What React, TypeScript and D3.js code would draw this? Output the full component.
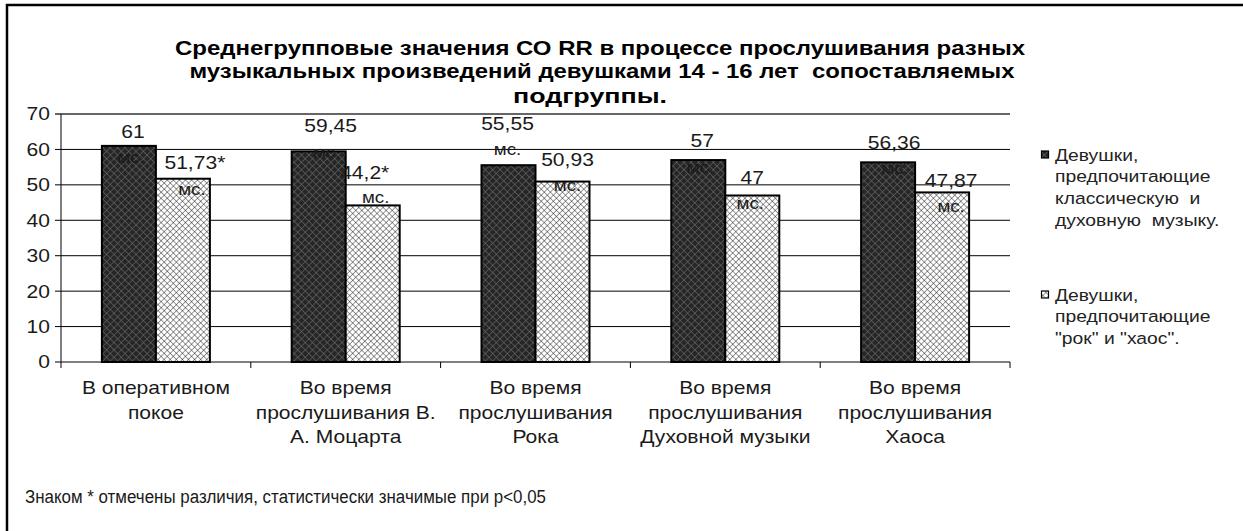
import React from "react";
import * as d3 from "d3";

const categories: string[][] = [
  ["В оперативном", "покое"],
  ["Во время", "прослушивания В.", "А. Моцарта"],
  ["Во время", "прослушивания", "Рока"],
  ["Во время", "прослушивания", "Духовной музыки"],
  ["Во время", "прослушивания", "Хаоса"],
];
const seriesNames: string[][] = [
  ["Девушки,", "предпочитающие", "классическую  и", "духовную  музыку."],
  ["Девушки,", "предпочитающие", "\"рок\" и \"хаос\"."],
];
const classicValues: number[] = [61, 59.45, 55.55, 57, 56.36];
const rockValues: number[] = [51.73, 44.2, 50.93, 47, 47.87];
const rockSignificant: boolean[] = [true, true, false, false, false];
const yTicks: number[] = [0, 10, 20, 30, 40, 50, 60, 70];
const titleLines: string[] = [
  "Среднегрупповые значения СО RR в процессе прослушивания разных",
  "музыкальных произведений девушками 14 - 16 лет  сопоставляемых",
  "подгруппы.",
];
const footnote = "Знаком * отмечены различия, статистически значимые при p<0,05";
const unit = "мс.";

// layout: label nudges (dx, dy) relative to bar centre / bar top, [value line, unit line]
const labelNudge: number[][][][] = [
  [
    [[4, -14], [2, 12]],
    [[12, -26], [8, 1]],
    [[-1, -42], [-1, -16]],
    [[4, -19], [2, 7]],
    [[6, -20], [7, 6]],
  ],
  [
    [[12, -16], [9, 11]],
    [[-8, -33], [3, -8]],
    [[5, -22], [5, 4]],
    [[0, -18], [-2, 8]],
    [[9, -12], [9, 14]],
  ],
];

const FONT = "'Liberation Sans', Arial, sans-serif";
const SX = 1.17;
const W = 1243;
const H = 531;
const plot = { left: 61, right: 1010, top: 114, bottom: 362 };

function T(props: {
  x: number; y: number; size: number; text: string; anchor?: string;
  weight?: string; fill?: string; sx?: number; len?: number;
}) {
  const { x, y, size, text, anchor = "middle", weight = "normal", fill = "#1a1a1a", sx = SX, len } = props;
  return (
    <text
      transform={`translate(${x},${y}) scale(${len ? 1 : sx},1)`}
      fontSize={size}
      fontFamily={FONT}
      fontWeight={weight}
      textAnchor={anchor as any}
      dominantBaseline="central"
      fill={fill}
      textLength={len}
      lengthAdjust={len ? "spacingAndGlyphs" : undefined}
      style={{ whiteSpace: "pre" }}
    >
      {text}
    </text>
  );
}

export default function App() {
  const x0 = d3.scaleBand<number>().domain(d3.range(categories.length)).range([plot.left, plot.right]);
  const groupW = 108;
  const x1 = d3.scaleBand<number>().domain([0, 1]).range([-groupW / 2, groupW / 2]);
  const y = d3.scaleLinear().domain([0, 70]).range([plot.bottom, plot.top]);
  const series = [classicValues, rockValues];
  const fmt = (v: number) => String(v).replace(".", ",");
  const fills = ["url(#darkHatch)", "url(#lightHatch)"];
  const boundaries = d3.range(categories.length + 1).map((i) => plot.left + i * x0.bandwidth());

  return (
    <svg width={W} height={H} style={{ position: "absolute", left: 0, top: 0, background: "#fff" }}>
      <defs>
        <pattern id="darkHatch" width={5.2} height={5.2} patternUnits="userSpaceOnUse" patternTransform="rotate(45)">
          <rect width={5.2} height={5.2} fill="#262626" />
          <path d="M0,0H5.2M0,0V5.2" stroke="#666" strokeWidth={1.2} />
        </pattern>
        <pattern id="lightHatch" width={4.3} height={4.3} patternUnits="userSpaceOnUse" patternTransform="rotate(45)">
          <rect width={4.3} height={4.3} fill="#fff" />
          <path d="M0,0H4.3M0,0V4.3" stroke="#111" strokeWidth={0.85} />
        </pattern>
      </defs>
      <rect x={0} y={0} width={W} height={H} fill="#fff" />
      <rect x={7} y={5} width={W + 20} height={H + 20} fill="none" stroke="#000" strokeWidth={2.5} />

      {titleLines.map((t, i) => (
        <T key={i} x={[600, 602, 590][i]} y={[47, 70, 95][i]} size={21} weight="bold" fill="#000" text={t} len={[850, 825, 154][i]} />
      ))}

      {yTicks.map((t) => (
        <g key={t}>
          <line x1={plot.left - 6} x2={plot.right} y1={y(t)} y2={y(t)} stroke={t === 70 ? "#666" : "#000"} strokeWidth={t === 70 ? 2 : 1} />
          <T x={50} y={y(t)} size={18} anchor="end" text={String(t)} />
        </g>
      ))}
      <line x1={plot.left} x2={plot.left} y1={plot.top} y2={plot.bottom} stroke="#000" strokeWidth={1} />
      {boundaries.map((b, i) => (
        <line key={i} x1={b} x2={b} y1={plot.bottom} y2={plot.bottom + 6} stroke="#000" strokeWidth={1} />
      ))}

      {series.map((vals, s) =>
        vals.map((v, i) => {
          const cx = x0(i)! + x0.bandwidth() / 2;
          const bx = cx + x1(s)!;
          const bw = x1.bandwidth();
          return (
            <rect key={`${s}-${i}`} x={bx} y={y(v)} width={bw} height={y(0) - y(v)} fill={fills[s]} stroke="#000" strokeWidth={2} />
          );
        })
      )}
      {series.map((vals, s) =>
        vals.map((v, i) => {
          const cx = x0(i)! + x0.bandwidth() / 2;
          const bc = cx + x1(s)! + x1.bandwidth() / 2;
          const top = y(v);
          const n = labelNudge[s][i];
          const txt = fmt(v) + (s === 1 && rockSignificant[i] ? "*" : "");
          return (
            <g key={`l${s}-${i}`}>
              <T x={bc + n[0][0]} y={top + n[0][1]} size={18} text={txt} />
              <T x={bc + n[1][0]} y={top + n[1][1]} size={16} text={unit} />
            </g>
          );
        })
      )}

      {categories.map((lines, i) => {
        const cx = x0(i)! + x0.bandwidth() / 2;
        return lines.map((l, j) => <T key={`${i}-${j}`} x={cx} y={388 + j * 24.5} size={18} text={l} />);
      })}

      {seriesNames.map((lines, s) => {
        const y0 = s === 0 ? 155 : 295;
        return (
          <g key={s}>
            <rect x={1041.5} y={y0 - 4} width={7} height={7} fill={fills[s]} stroke="#000" strokeWidth={1.2} />
            {lines.map((l, j) => (
              <T key={j} x={1055} y={y0 + j * 21.7} size={16.5} anchor="start" fill="#222" text={l} />
            ))}
          </g>
        );
      })}

      <T x={25} y={497} size={18} anchor="start" text={footnote} len={521} />
    </svg>
  );
}
